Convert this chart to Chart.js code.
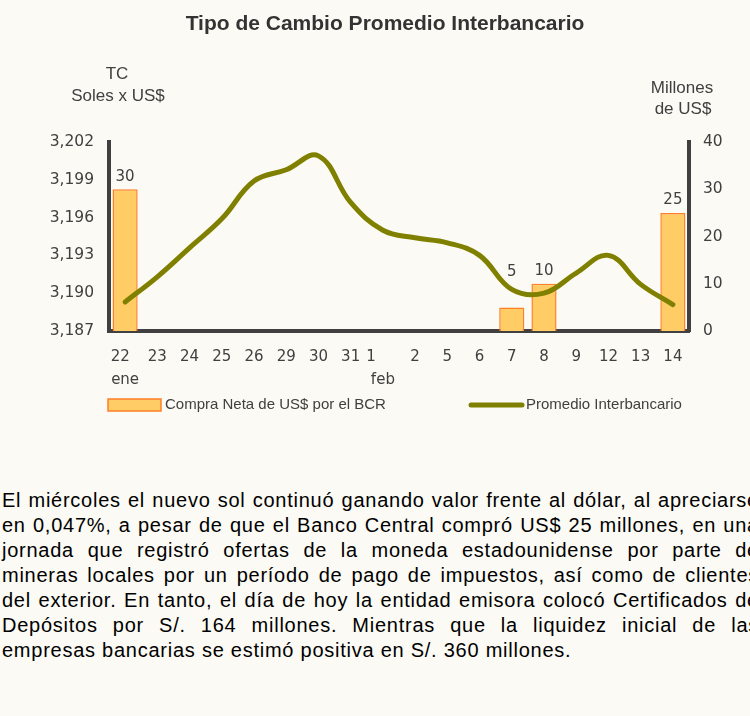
<!DOCTYPE html>
<html>
<head>
<meta charset="utf-8">
<script src="https://cdn.jsdelivr.net/npm/chart.js@4.4.1/dist/chart.umd.min.js"></script>
<style>
  html, body { margin: 0; padding: 0; background: #fbfaf4; width: 750px; height: 716px; overflow: hidden; }
  #wrap { position: relative; width: 750px; height: 716px; }
  #grafico { position: absolute; left: 0; top: 0; }
  #texto { position: absolute; left: 2px; top: 488px; width: 757px; font: 20px "Liberation Sans", Arial, sans-serif; letter-spacing: 0.75px; color: #000; line-height: 25px; }
  #texto div { white-space: nowrap; text-align: justify; text-align-last: justify; }
  #texto div.ultima { text-align-last: left; }
</style>
</head>
<body>
<div id="wrap">
  <canvas id="grafico" width="750" height="430"></canvas>
  <div id="texto">
    <div>El miércoles el nuevo sol continuó ganando valor frente al dólar, al apreciarse</div>
    <div>en 0,047%, a pesar de que el Banco Central compró US$ 25 millones, en una</div>
    <div>jornada que registró ofertas de la moneda estadounidense por parte de</div>
    <div>mineras locales por un período de pago de impuestos, así como de clientes</div>
    <div>del exterior. En tanto, el día de hoy la entidad emisora colocó Certificados de</div>
    <div>Depósitos por S/. 164 millones. Mientras que la liquidez inicial de las</div>
    <div class="ultima">empresas bancarias se estimó positiva en S/. 360 millones.</div>
  </div>
</div>
<script>
// Fechas (ene / feb)
const fechas = [['22  ', 'ene'], '23', '24', '25', '26', '29', '30', '31', ['1     ', 'feb'], '2', '5', '6', '7', '8', '9', '12', '13', '14'];

// Compra neta de US$ por el BCR (millones)
const compraBCR = [30, null, null, null, null, null, null, null, null, null, null, null, 5, 10, null, null, null, 25];

// Tipo de cambio promedio interbancario (S/. x US$)
const promedio = [3.1893, 3.1913, 3.1936, 3.1959, 3.1989, 3.1998, 3.2009, 3.1972, 3.1950, 3.1944, 3.1940, 3.1930,
                  3.1903, 3.1900, 3.1916, 3.1930, 3.1907, 3.1891];

const ticksTC = [3.187, 3.190, 3.193, 3.196, 3.199, 3.202];
const ticksMillones = [0, 10, 20, 30, 40];

const gris = '#404040';
const fuenteTicks = { family: '"DejaVu Sans", Verdana, sans-serif', size: 15 };

// titulo, titulos de ejes, etiquetas de barras y leyenda
const extras = {
  id: 'extras',
  afterDatasetsDraw(chart) {
    const ctx = chart.ctx;
    const barras = chart.getDatasetMeta(0).data;
    const linea = chart.getDatasetMeta(1).data;
    ctx.save();
    ctx.font = '15px "DejaVu Sans", Verdana, sans-serif';
    ctx.fillStyle = gris;
    ctx.textAlign = 'center';
    ctx.textBaseline = 'bottom';
    barras.forEach((bar, i) => {
      if (compraBCR[i] == null) return;
      // si la linea pasa por encima de la barra, subir la etiqueta
      const y = Math.min(bar.y - 5, linea[i].y - 10);
      ctx.fillText(String(compraBCR[i]), bar.x, y);
    });
    ctx.restore();
  },
  afterDraw(chart) {
    const ctx = chart.ctx;
    ctx.save();
    ctx.textAlign = 'center';
    ctx.textBaseline = 'middle';

    ctx.fillStyle = '#333';
    ctx.font = 'bold 21px "Liberation Sans", Arial, sans-serif';
    ctx.fillText('Tipo de Cambio Promedio Interbancario', 385, 24);

    ctx.fillStyle = gris;
    ctx.font = '17px "Liberation Sans", Arial, sans-serif';
    ctx.fillText('TC', 117, 74);
    ctx.fillText('Soles x US$', 118, 96);
    ctx.fillText('Millones', 682, 88);
    ctx.fillText('de US$', 683, 109);

    // leyenda
    const ly = 405;
    ctx.fillStyle = '#ffcc66';
    ctx.fillRect(108, ly - 6, 53, 12);
    ctx.strokeStyle = '#ff7f27';
    ctx.lineWidth = 1.5;
    ctx.strokeRect(108, ly - 6, 53, 12);

    ctx.strokeStyle = '#808000';
    ctx.lineWidth = 5;
    ctx.lineCap = 'round';
    ctx.beginPath();
    ctx.moveTo(471, ly);
    ctx.lineTo(522, ly);
    ctx.stroke();

    ctx.fillStyle = gris;
    ctx.textAlign = 'left';
    ctx.font = '15px "Liberation Sans", Arial, sans-serif';
    ctx.fillText('Compra Neta de US$ por el BCR', 165, ly);
    ctx.fillText('Promedio Interbancario', 526, ly);
    ctx.restore();
  }
};

new Chart(document.getElementById('grafico'), {
  data: {
    labels: fechas,
    datasets: [
      {
        type: 'bar',
        label: 'Compra Neta de US$ por el BCR',
        data: compraBCR,
        yAxisID: 'y2',
        backgroundColor: '#ffcc66',
        borderColor: '#ff7f27',
        borderWidth: 1.5,
        barPercentage: 0.78,
        categoryPercentage: 1,
        order: 2
      },
      {
        type: 'line',
        label: 'Promedio Interbancario',
        data: promedio,
        yAxisID: 'y',
        borderColor: '#808000',
        borderWidth: 5,
        tension: 0.4,
        pointRadius: 0,
        borderCapStyle: 'round',
        order: 1
      }
    ]
  },
  options: {
    responsive: false,
    animation: false,
    events: [],
    layout: { padding: { top: 142, left: 0, right: 0, bottom: 0 } },
    plugins: { legend: { display: false }, title: { display: false }, tooltip: { enabled: false } },
    scales: {
      x: {
        offset: true,
        grid: { display: false, drawTicks: false },
        border: { color: gris, width: 4 },
        ticks: { color: gris, font: { ...fuenteTicks, lineHeight: 1.5 }, padding: 15, maxRotation: 0, autoSkip: false },
        afterFit(scale) { scale.height = 99; }
      },
      y: {
        position: 'left',
        min: 3.187,
        max: 3.202,
        grid: { display: false, drawTicks: false },
        border: { color: gris, width: 4 },
        ticks: { color: gris, font: { ...fuenteTicks, size: 15.5 }, padding: 15, callback: v => v.toFixed(3).replace('.', ',') },
        afterBuildTicks(scale) { scale.ticks = ticksTC.map(v => ({ value: v })); },
        afterFit(scale) { scale.width = 109; }
      },
      y2: {
        position: 'right',
        min: 0,
        max: 40,
        grid: { display: false, drawTicks: false },
        border: { color: gris, width: 4 },
        ticks: { color: gris, font: { ...fuenteTicks, size: 15.5 }, padding: 14 },
        afterBuildTicks(scale) { scale.ticks = ticksMillones.map(v => ({ value: v })); },
        afterFit(scale) { scale.width = 61; }
      }
    }
  },
  plugins: [extras]
});
</script>
</body>
</html>
